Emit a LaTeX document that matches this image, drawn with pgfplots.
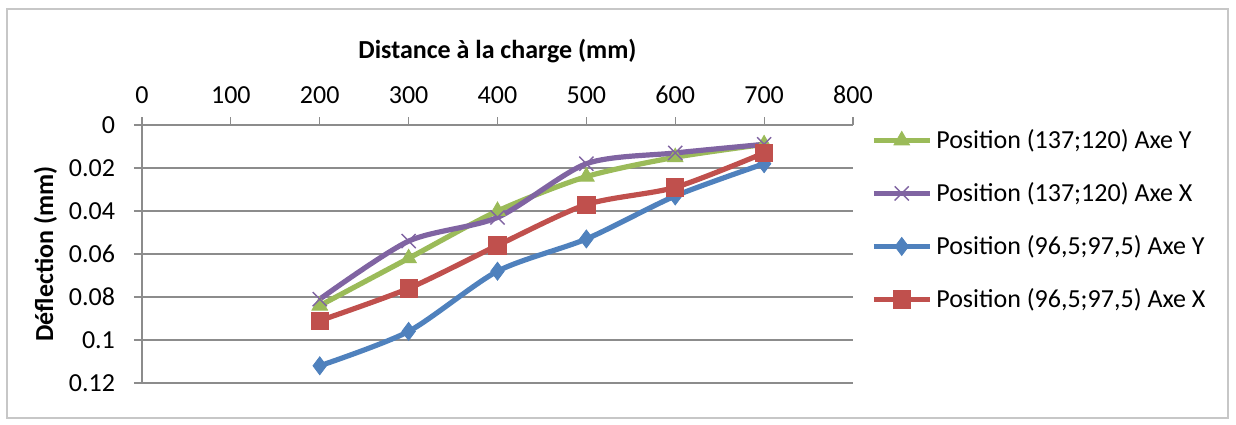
\documentclass[border=0pt]{standalone}
\usepackage{fontspec}
\setmainfont{Carlito}
\usepackage{pgfplots}
\pgfplotsset{compat=1.18}
\definecolor{cgreen}{HTML}{9BBB59}
\definecolor{cpurple}{HTML}{8064A2}
\definecolor{cblue}{HTML}{4F81BD}
\definecolor{cred}{HTML}{C0504D}
\definecolor{gridgray}{HTML}{8C8C8C}
\begin{document}
\begin{tikzpicture}[x=1pt,y=1pt]
% 1 px of the reference = 0.5pt
\path[use as bounding box] (-71,-20.5) rectangle (547,191.5);
\draw[black!22, line width=0.6pt] (-67.5,-17.5) rectangle (543,187);
\begin{axis}[
    at={(0,0)}, anchor=south west,
    scale only axis, width=355.5pt, height=129pt,
    xmin=0, xmax=800, ymin=0, ymax=0.12,
    y dir=reverse,
    axis x line*=top, axis y line*=left,
    axis line style={gridgray, line width=0.6pt},
    xtick={0,100,200,300,400,500,600,700,800},
    ytick={0,0.02,0.04,0.06,0.08,0.1,0.12},
    tick align=outside, major tick length=4pt,
    tick style={gridgray, line width=0.6pt},
    ymajorgrids, grid style={gridgray, line width=0.6pt},
    scaled y ticks=false,
    yticklabel style={/pgf/number format/fixed, /pgf/number format/precision=2, xshift=-6pt},
    xticklabel style={yshift=3pt},
    /pgf/number format/assume math mode=true,
    ticklabel style={font=\fontsize{13}{15}\selectfont},
    label style={font=\fontsize{13}{15}\selectfont\bfseries},
    xlabel={Distance à la charge (mm)},
    xlabel style={yshift=4.5pt},
    ylabel={Déflection (mm)},
    ylabel style={yshift=-1pt},
    legend style={at={(rel axis cs:1.025,1)}, anchor=north west, draw=none,
        font=\fontsize{13}{15}\selectfont, row sep=11.5pt, inner sep=0pt},
    legend cell align=left,
    legend image code/.code={\draw[mark repeat=2, mark phase=2]
        plot coordinates {(0pt,0pt) (14pt,0pt) (28pt,0pt)};},
    every axis plot/.append style={line width=2.6pt, smooth, tension=0.45},
]
\addplot[cgreen, mark=triangle*, mark size=4.5pt, mark options={solid, line width=0.4pt}]
    coordinates {(200,0.084) (300,0.062) (400,0.040) (500,0.024) (600,0.015) (700,0.009)};
\addlegendentry{Position (137;120) Axe Y}
\addplot[cpurple, mark=x, mark size=5pt, mark options={solid, line width=0.7pt}]
    coordinates {(200,0.081) (300,0.054) (400,0.043) (500,0.018) (600,0.013) (700,0.009)};
\addlegendentry{Position (137;120) Axe X}
\addplot[cblue, mark=diamond*, mark size=4.5pt, mark options={solid, line width=0.4pt}]
    coordinates {(200,0.112) (300,0.096) (400,0.068) (500,0.053) (600,0.033) (700,0.018)};
\addlegendentry{Position (96,5;97,5) Axe Y}
\addplot[cred, mark=square*, mark size=4.3pt, mark options={solid, line width=0.4pt}]
    coordinates {(200,0.091) (300,0.076) (400,0.056) (500,0.037) (600,0.029) (700,0.013)};
\addlegendentry{Position (96,5;97,5) Axe X}
\end{axis}
\end{tikzpicture}
\end{document}
